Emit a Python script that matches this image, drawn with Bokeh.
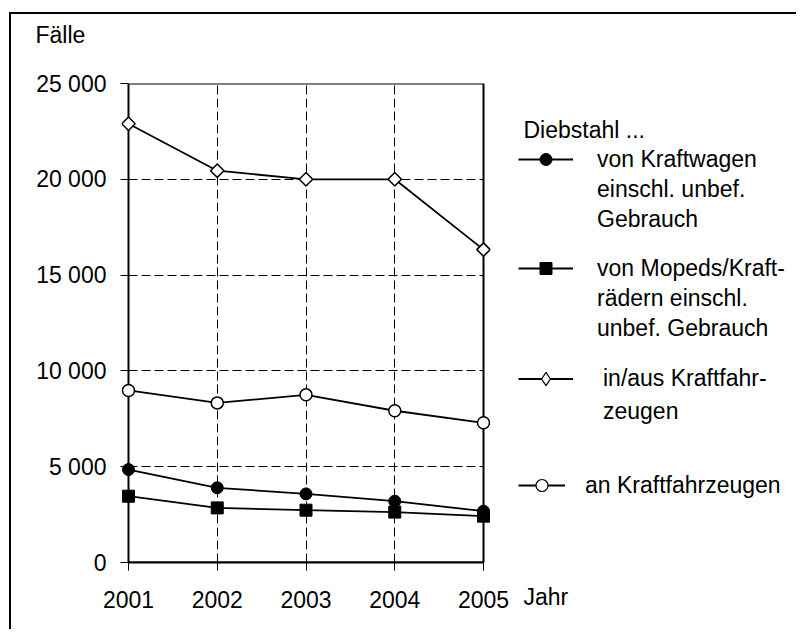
from bokeh.plotting import figure
from bokeh.models import (Range1d, FixedTicker, Label, Legend, LegendItem, Title,
                          BoxAnnotation)
from bokeh.layouts import row
from bokeh.embed import file_html
from bokeh.resources import INLINE
import numpy as np

years = [2001, 2002, 2003, 2004, 2005]
kraftwagen = [4850, 3900, 3580, 3200, 2680]
mopeds = [3460, 2850, 2730, 2630, 2420]
in_aus_kfz = [22900, 20450, 20000, 20000, 16330]
an_kfz = [8980, 8330, 8750, 7920, 7290]

y_ticks = [0, 5000, 10000, 15000, 20000, 25000]
y_tick_labels = ["0", "5 000", "10 000", "15 000", "20 000", "25 000"]
x_tick_labels = ["2001", "2002", "2003", "2004", "2005"]

y_title = "Fälle"
x_title = "Jahr"
legend_title = "Diebstahl ..."
legend_lines = [
    ["von Kraftwagen", "einschl. unbef.", "Gebrauch"],
    ["von Mopeds/Kraft-", "rädern einschl.", "unbef. Gebrauch"],
    ["in/aus Kraftfahr-", "zeugen"],
    ["an Kraftfahrzeugen"],
]
series = [kraftwagen, mopeds, in_aus_kfz, an_kfz]

FONT = "Liberation Sans"
FS = "23px"
LW = 1.8

BOX_W = 355          # px between first and last year
PAD = 7              # px of frame padding so edge markers are not clipped
pad_x = PAD * (years[-1] - years[0]) / BOX_W

MB_L, MB_R = 110, 20
W_MAIN = MB_L + BOX_W + 2 * PAD + MB_R
W_SIDE, H = 286, 615
X0 = 12  # page offset of the layout content

# ---------------- main chart ----------------
p = figure(width=W_MAIN, height=H, output_backend="svg", toolbar_location=None,
           x_range=Range1d(years[0] - pad_x, years[-1] + pad_x),
           y_range=Range1d(y_ticks[0], y_ticks[-1]),
           min_border_left=MB_L, min_border_right=MB_R, min_border_top=69,
           min_border_bottom=67, title=None)
p.background_fill_color = "white"
p.border_fill_color = "white"
p.outline_line_color = None

# titles above: spacer (next to frame) then "Fälle"
p.add_layout(Title(text=" ", text_font_size="10px", standoff=14,
                   text_color="white"), "above")
p.add_layout(Title(text=y_title, align="left", offset=-86, standoff=14,
                   vertical_align="top", text_font=FONT, text_font_size=FS,
                   text_font_style="normal", text_color="black"), "above")

p.xaxis.ticker = FixedTicker(ticks=years)
p.xaxis.major_label_overrides = {y: l for y, l in zip(years, x_tick_labels)}
p.xaxis.bounds = (years[0], years[-1])
p.yaxis.ticker = FixedTicker(ticks=y_ticks)
p.yaxis.major_label_overrides = {t: l for t, l in zip(y_ticks, y_tick_labels)}
for ax in (p.xaxis, p.yaxis):
    ax.axis_line_color = "black"
    ax.axis_line_width = 2
    ax.major_tick_line_color = "black"
    ax.major_tick_line_width = 1
    ax.minor_tick_line_color = None
    ax.major_label_text_font = FONT
    ax.major_label_text_font_size = FS
    ax.major_label_text_color = "black"
p.xaxis.major_tick_in = 0
p.xaxis.major_tick_out = 8
p.yaxis.axis_line_color = None
p.yaxis.major_tick_in = PAD
p.yaxis.major_tick_out = 8 - PAD
p.yaxis.major_label_standoff = 14
p.xaxis.major_label_standoff = 20

# interior grid lines only (the box covers the outer ones)
p.xgrid.ticker = FixedTicker(ticks=years[1:-1])
p.ygrid.ticker = FixedTicker(ticks=y_ticks[1:-1])
p.ygrid.cross_bounds = (years[0], years[-1])
for g in (p.xgrid, p.ygrid):
    g.grid_line_color = "black"
    g.grid_line_width = 1
    g.grid_line_dash = "9 4"

# axes box
p.add_layout(BoxAnnotation(left=years[0], right=years[-1], bottom=y_ticks[0],
                           top=y_ticks[-1], fill_color=None, fill_alpha=0,
                           line_color="black", line_alpha=1.0, line_width=2,
                           level="underlay"))

styles = [
    dict(marker="circle", size=12, fill_color="black", line_color="black", line_width=1),
    dict(marker="square", size=12, fill_color="black", line_color="black", line_width=1),
    dict(marker="square", angle=np.pi / 4, size=9.5, fill_color="white",
         line_color="black", line_width=1.5),
    dict(marker="circle", size=12, fill_color="white", line_color="black", line_width=1.5),
]
for vals, st in zip(series, styles):
    p.line(years, vals, line_color="black", line_width=LW)
    p.scatter(years, vals, **st)

# ---------------- legend / side panel (frame aligned with main frame) ----------------
# side data coordinates = page pixels
s = figure(width=W_SIDE, height=H, output_backend="svg", toolbar_location=None,
           x_range=Range1d(X0 + W_MAIN, X0 + W_MAIN + W_SIDE), y_range=Range1d(563, 84),
           min_border=0, x_axis_type=None, y_axis_type=None)
s.outline_line_color = None
s.grid.visible = False
s.background_fill_color = "white"
s.border_fill_color = "white"

legend_styles = [
    dict(marker="circle", fill_color="black", line_color="black", line_width=1),
    dict(marker="square", fill_color="black", line_color="black", line_width=1),
    dict(marker="diamond", fill_color="white", line_color="black", line_width=1.2),
    dict(marker="circle", fill_color="white", line_color="black", line_width=1.2),
]
dummy = s.scatter(x=[0], y=[0], marker="circle", fill_alpha=0, line_alpha=0)

leg_locs = [(8, 328), (8, 219), (8, 134), (8, 62)]
leg_row_h = [30, 30, 33, 30]
leg_glyph_w = [55, 55, 55, 47]
leg_standoff = [24, 24, 30, 20]
for lines, vals, st, loc, rh, gw, so in zip(legend_lines, series, legend_styles, leg_locs,
                                            leg_row_h, leg_glyph_w, leg_standoff):
    # same series (outside this panel's visible range), used as legend glyph source
    lr = s.line(years, vals, line_color="black", line_width=LW)
    sr = s.scatter(years, vals, **st)
    items = [LegendItem(label=lines[0], renderers=[lr, sr])]
    for extra in lines[1:]:
        items.append(LegendItem(label=extra, renderers=[dummy]))
    leg = Legend(items=items, location=loc, orientation="vertical",
                 label_text_font=FONT, label_text_font_size=FS,
                 label_text_color="black", label_height=rh, glyph_height=rh,
                 glyph_width=gw, label_standoff=so, spacing=0, padding=0,
                 margin=0, border_line_alpha=0, background_fill_alpha=0,
                 click_policy="none")
    s.add_layout(leg, "center")

s.add_layout(Label(x=524, y=130, text=legend_title, text_font=FONT,
                   text_font_size=FS, text_color="black",
                   text_align="left", text_baseline="middle"))
s.add_layout(Title(text=x_title, align="left", offset=13, standoff=38,
                   text_font=FONT, text_font_size=FS, text_font_style="normal",
                   text_color="black"), "below")

layout = row(p, s, spacing=0)
layout.styles = {"border-left": "2px solid black", "border-top": "2px solid black",
                 "margin-top": "12px", "margin-left": "9px"}

open("out.html", "w").write(file_html(layout, INLINE))
